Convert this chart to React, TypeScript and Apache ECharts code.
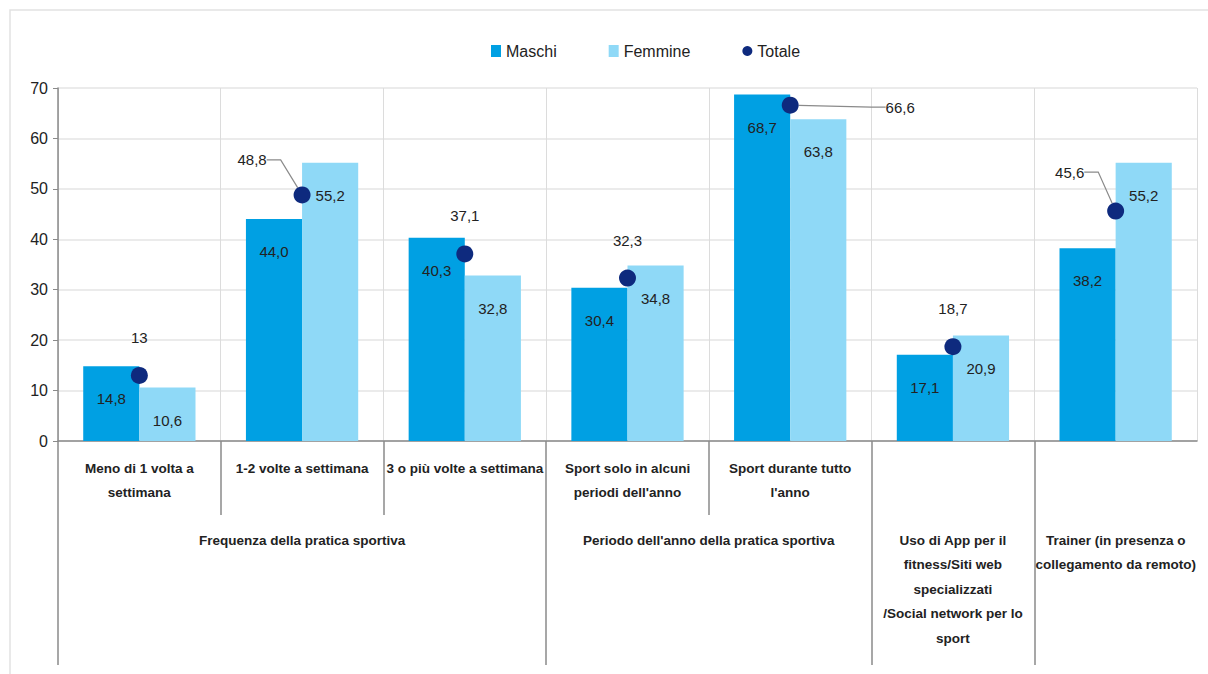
import React, { useEffect, useRef } from "react";
import * as echarts from "echarts";

const categories = [
  "Meno di 1 volta a\nsettimana",
  "1-2 volte a settimana",
  "3 o più volte a settimana",
  "Sport solo in alcuni\nperiodi dell'anno",
  "Sport durante tutto\nl'anno",
  "Uso di App per il\nfitness/Siti web\nspecializzati\n/Social network per lo\nsport",
  "Trainer (in presenza o\ncollegamento da remoto)",
];
// categories whose label sits on the second (group) level
const secondLevelCats = [5, 6];
// second-level axis: 15 half-step points (0..14) spanning the category bands
const groupLabels = [
  "", "", "", "Frequenza della pratica sportiva", "", "", "", "",
  "Periodo dell'anno della pratica sportiva", "", "",
  categories[5], "", categories[6], "",
];
const longSeparatorPoints = [0, 6, 10, 12];
const shortSeparatorPoints = [2, 4, 8];

const maschi = [14.8, 44.0, 40.3, 30.4, 68.7, 17.1, 38.2];
const femmine = [10.6, 55.2, 32.8, 34.8, 63.8, 20.9, 55.2];
const totale = [13, 48.8, 37.1, 32.3, 66.6, 18.7, 45.6];

const yTicks = { min: 0, max: 70, interval: 10 };

const FONT = "'Liberation Sans', Arial, sans-serif";
const TEXT = "#222222";
const C_M = "#00a0e3";
const C_F = "#8fd9f7";
const C_T = "#0e2a7e";

const fmtBar = (v: number) => v.toFixed(1).replace(".", ",");
const fmtTot = (v: number) => (Number.isInteger(v) ? String(v) : v.toFixed(1).replace(".", ","));

// moved labels (leader lines) for Totale: index -> [dx, dy]
const totaleLabelMoves: Record<number, [number, number]> = {
  1: [-50, 3],
  4: [110, 40],
  6: [-46, -1],
};

export default function App() {
  const ref = useRef<HTMLDivElement>(null);
  useEffect(() => {
    if (!ref.current) return;
    const chart = echarts.init(ref.current, undefined, { renderer: "svg" });
    const hiddenAxisBase = {
      type: "category" as const,
      position: "bottom" as const,
      boundaryGap: false,
      data: groupLabels,
      axisLine: { show: false },
      splitLine: { show: false },
    };
    const barLabel = {
      show: true,
      position: "insideTop" as const,
      distance: 25,
      fontFamily: FONT,
      fontSize: 15,
      color: TEXT,
      formatter: (p: any) => fmtBar(p.value),
    };
    chart.setOption({
      animation: false,
      backgroundColor: "#ffffff",
      textStyle: { fontFamily: FONT },
      graphic: [
        {
          type: "rect",
          shape: { x: 10, y: 10, width: 1210, height: 680 },
          style: { fill: "none", stroke: "#e2e2e2", lineWidth: 1.5 },
          silent: true,
        },
      ],
      legend: {
        left: 486,
        top: 38,
        itemWidth: 10,
        itemHeight: 12,
        itemGap: 52,
        textStyle: { fontFamily: FONT, fontSize: 16, color: TEXT },
        data: [
          { name: "Maschi", icon: "rect" },
          { name: "Femmine", icon: "rect" },
          { name: "Totale", icon: "circle" },
        ],
      },
      grid: { left: 58, right: 11, top: 88, bottom: 233, containLabel: false },
      xAxis: [
        {
          type: "category",
          data: categories,
          axisLine: { show: true, lineStyle: { color: "#8a8a8a", width: 1.5 } },
          axisTick: { show: false },
          splitLine: { show: true, interval: 0, lineStyle: { color: "#dcdcdc", width: 1 } },
          axisLabel: {
            interval: 0,
            margin: 15,
            fontFamily: FONT,
            fontWeight: "bold",
            fontSize: 13.5,
            lineHeight: 24,
            color: TEXT,
            formatter: (v: string, i: number) => (secondLevelCats.includes(i) ? "" : v),
          },
        },
        {
          ...hiddenAxisBase,
          axisTick: {
            show: true,
            length: 224,
            interval: (i: number) => longSeparatorPoints.includes(i),
            lineStyle: { color: "#8a8a8a", width: 1.5 },
          },
          axisLabel: {
            interval: 0,
            margin: 87,
            fontFamily: FONT,
            fontWeight: "bold",
            fontSize: 13.5,
            lineHeight: 24.5,
            color: TEXT,
          },
        },
        {
          ...hiddenAxisBase,
          axisTick: {
            show: true,
            length: 74,
            interval: (i: number) => shortSeparatorPoints.includes(i),
            lineStyle: { color: "#8a8a8a", width: 1.5 },
          },
          axisLabel: { show: false },
        },
      ],
      yAxis: {
        type: "value",
        min: yTicks.min,
        max: yTicks.max,
        interval: yTicks.interval,
        axisLine: { show: true, lineStyle: { color: "#8a8a8a", width: 1.5 } },
        axisTick: { show: true, length: 5, lineStyle: { color: "#8a8a8a" } },
        splitLine: { show: true, lineStyle: { color: "#e4e4e4", width: 1.5 } },
        axisLabel: { fontFamily: FONT, fontSize: 16, color: TEXT, margin: 10 },
      },
      series: [
        {
          name: "Maschi",
          type: "bar",
          data: maschi,
          barGap: "0%",
          barCategoryGap: "31%",
          itemStyle: { color: C_M },
          label: barLabel,
        },
        {
          name: "Femmine",
          type: "bar",
          data: femmine,
          barGap: "0%",
          barCategoryGap: "31%",
          itemStyle: { color: C_F },
          label: barLabel,
        },
        {
          name: "Totale",
          type: "scatter",
          data: totale.map((v, i) => ({
            value: v,
            labelLine: { show: totaleLabelMoves[i] !== undefined },
          })),
          symbol: "circle",
          symbolSize: 17,
          z: 5,
          itemStyle: { color: C_T, opacity: 1 },
          label: {
            show: true,
            position: "top",
            distance: 22,
            fontFamily: FONT,
            fontSize: 15,
            color: TEXT,
            formatter: (p: any) => fmtTot(p.value),
          },
          labelLine: {
            show: false,
            length2: 14,
            lineStyle: { color: "#8a8a8a", width: 1.2 },
          },
          labelLayout: (params: any) => {
            const m = totaleLabelMoves[params.dataIndex];
            return m ? { dx: m[0], dy: m[1] } : {};
          },
        },
      ],
    });
    return () => chart.dispose();
  }, []);
  return (
    <div
      ref={ref}
      style={{ position: "absolute", left: 0, top: 0, width: 1208, height: 674 }}
    />
  );
}
